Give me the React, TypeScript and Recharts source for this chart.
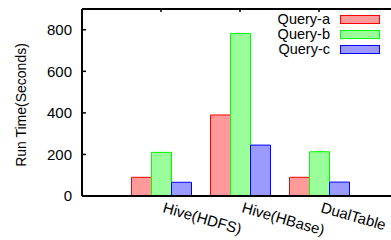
import React from 'react';
import { Bar, BarChart, Legend, XAxis, YAxis } from 'recharts';

// values (seconds)
const CATEGORIES = ['Hive(HDFS)', 'Hive(HBase)', 'DualTable'];
const QUERY_A = [90, 390, 90];
const QUERY_B = [210, 782, 213];
const QUERY_C = [66, 245, 67];
const Y_TICKS = [0, 200, 400, 600, 800];

const SERIES = [
  { key: 'a', name: 'Query-a', fill: '#ff9a9a', stroke: '#ff0000' },
  { key: 'b', name: 'Query-b', fill: '#9aff9a', stroke: '#00ff00' },
  { key: 'c', name: 'Query-c', fill: '#9a9aff', stroke: '#0000ff' },
];

const data = CATEGORIES.map((name, i) => ({
  pos: i + 1,
  name,
  a: QUERY_A[i],
  b: QUERY_B[i],
  c: QUERY_C[i],
}));

const FONT = '"Liberation Sans", Arial, Helvetica, sans-serif';

// gnuplot-style slanted category label, starting at the tick
function XTick(props: any) {
  const { x, y, payload } = props;
  const tx = Number(x) + 1;
  const ty = Number(y) + 16;
  return (
    <g transform={`translate(${tx} ${ty})`}>
      <g transform="rotate(16)">
        <text x={0} y={0} textAnchor="start" fontSize={15} fontFamily={FONT} fill="#000">
          {CATEGORIES[payload.value - 1]}
        </text>
      </g>
    </g>
  );
}

function LegendBox() {
  return (
    <div style={{ fontFamily: FONT, fontSize: 14.5, color: '#000' }}>
      {SERIES.map((s) => (
        <div
          key={s.key}
          style={{ display: 'flex', justifyContent: 'flex-end', alignItems: 'center', height: 15 }}
        >
          <span style={{ lineHeight: '15px' }}>{s.name}</span>
          <div
            style={{
              width: 38,
              height: 7,
              marginLeft: 10,
              background: s.fill,
              border: `1px solid ${s.stroke}`,
            }}
          />
        </div>
      ))}
    </div>
  );
}

export default function App() {
  return (
    <div style={{ position: 'absolute', left: 0, top: 0, width: 391, height: 240, overflow: 'hidden', background: '#fff' }}>
      <BarChart
        width={398}
        height={240}
        data={data}
        margin={{ top: 8, right: 0, bottom: 0, left: 0 }}
        barGap={0}
      >
        <XAxis
          dataKey="pos"
          type="number"
          domain={[0, 4]}
          ticks={[1, 2, 3]}
          height={44}
          axisLine={{ stroke: '#000', strokeWidth: 2 }}
          tickLine={false}
          tickSize={0}
          tickMargin={0}
          tick={XTick}
          interval={0}
        />
        <XAxis
          xAxisId="top"
          orientation="top"
          dataKey="pos"
          type="number"
          domain={[0, 4]}
          ticks={[1, 2, 3]}
          height={1}
          axisLine={{ stroke: '#000', strokeWidth: 2 }}
          tickLine={{ stroke: '#000', strokeWidth: 1.5 }}
          tickSize={-3}
          tickFormatter={() => ''}
        />
        <YAxis
          type="number"
          domain={[0, 900]}
          ticks={Y_TICKS}
          width={82}
          axisLine={{ stroke: '#000', strokeWidth: 2 }}
          tickLine={{ stroke: '#000', strokeWidth: 1.5 }}
          tickSize={-4}
          tickMargin={14}
          tick={{ fill: '#000', fontSize: 15, fontFamily: FONT }}
          label={() => (
            <text
              transform="translate(26,105) rotate(-90)"
              x={0}
              y={0}
              textAnchor="middle"
              fontSize={14}
              fontFamily={FONT}
              fill="#000"
            >
              Run Time(Seconds)
            </text>
          )}
        />
        <Legend
          layout="horizontal"
          verticalAlign="middle"
          content={() => <LegendBox />}
          wrapperStyle={{ top: 12, left: 230, width: 150 }}
        />
        {SERIES.map((s) => (
          <Bar
            key={s.key}
            dataKey={s.key}
            name={s.name}
            fill={s.fill}
            stroke={s.stroke}
            strokeWidth={1}
            barSize={20}
            isAnimationActive={false}
          />
        ))}
      </BarChart>
    </div>
  );
}
